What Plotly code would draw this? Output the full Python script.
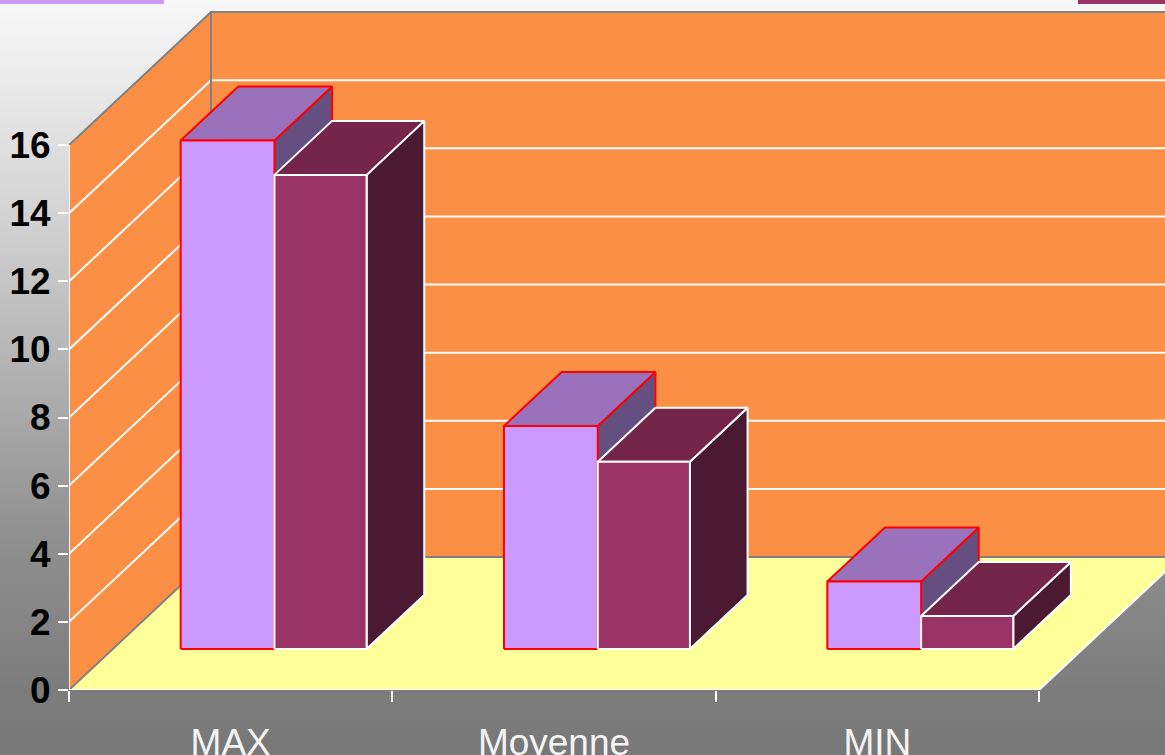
import base64
import plotly.graph_objects as go

# ---- data ----
categories = ["MAX", "Moyenne", "MIN"]
series_a = [14.93, 6.55, 1.98]
series_b = [13.92, 5.5, 0.97]
y_ticks = [0, 2, 4, 6, 8, 10, 12, 14, 16]

# ---- oblique projection (in axis units) ----
PX_PER_CAT = 323.33
PX_PER_VAL = 34.06
PLOT_W = 1096
PLOT_H = 690
DX = 142 / PX_PER_CAT
DY = 133 / PX_PER_VAL
D0, D1 = 41 / 133, 95 / 133
BAR_L, BAR_M, BAR_R = 0.21, 0.5, 0.785
NCAT = len(categories)
YTOP = y_ticks[-1]

WALL = "#FB8F45"
FLOOR = "#FFFF99"
GREY = "#808080"
WHITE = "#FFFFFF"
STYLE_A = dict(front="#CC99FF", top="#9A72BC", side="#654F80", edge="#FF0000")
STYLE_B = dict(front="#993366", top="#732649", side="#4C1933", edge="#FFFFFF")


def P(x, v, d):
    return x + d * DX, v + d * DY


def poly(points, fill=None, line=None, width=1.5, clip=True):
    xs = [p[0] for p in points]
    ys = [p[1] for p in points]
    kw = dict(x=xs, y=ys, mode="lines", hoverinfo="skip", showlegend=False, cliponaxis=clip)
    if fill:
        kw.update(fill="toself", fillcolor=fill)
    if line:
        kw["line"] = dict(color=line, width=width)
    else:
        kw["line"] = dict(width=0)
    return go.Scatter(**kw)


fig = go.Figure()

# walls and floor
fig.add_trace(poly([P(0, 0, 0), P(0, 0, 1), P(0, YTOP, 1), P(0, YTOP, 0), P(0, 0, 0)], fill=WALL))
fig.add_trace(poly([P(0, 0, 1), P(NCAT, 0, 1), P(NCAT, YTOP, 1), P(0, YTOP, 1), P(0, 0, 1)], fill=WALL))
fig.add_trace(poly([P(0, 0, 0), P(NCAT, 0, 0), P(NCAT, 0, 1), P(0, 0, 1), P(0, 0, 0)], fill=FLOOR))

# grid lines
for v in y_ticks[1:-1]:
    fig.add_trace(poly([P(0, v, 0), P(0, v, 1), P(NCAT, v, 1)], line=WHITE, width=2))

# wall outlines
fig.add_trace(poly([P(0, YTOP, 0), P(0, YTOP, 1), P(NCAT, YTOP, 1)], line=GREY, width=2))
fig.add_trace(poly([P(0, 0, 1), P(0, YTOP, 1)], line=GREY, width=2))
fig.add_trace(poly([P(0, 0, 0), P(0, 0, 1), P(NCAT, 0, 1)], line=GREY, width=2))

# axes lines
fig.add_trace(poly([P(0, 0, 0), P(0, YTOP, 0)], line=WHITE, width=2, clip=False))
fig.add_trace(poly([P(0, 0, 0), P(NCAT, 0, 0), P(NCAT, 0, 1)], line=WHITE, width=2, clip=False))


def box(x0, x1, v, st):
    side = [P(x1, 0, D0), P(x1, 0, D1), P(x1, v, D1), P(x1, v, D0), P(x1, 0, D0)]
    top = [P(x0, v, D0), P(x1, v, D0), P(x1, v, D1), P(x0, v, D1), P(x0, v, D0)]
    front = [P(x0, 0, D0), P(x1, 0, D0), P(x1, v, D0), P(x0, v, D0), P(x0, 0, D0)]
    for pts, colr in ((side, st["side"]), (top, st["top"]), (front, st["front"])):
        fig.add_trace(poly(pts, fill=colr, line=st["edge"], width=2))


for i in range(NCAT):
    box(i + BAR_L, i + BAR_M, series_a[i], STYLE_A)
    box(i + BAR_M, i + BAR_R, series_b[i], STYLE_B)

# vertical page gradient
grad_svg = (
    '<svg xmlns="http://www.w3.org/2000/svg" width="1165" height="755" preserveAspectRatio="none">'
    '<defs><linearGradient id="g" x1="0" y1="0" x2="0" y2="1">'
    '<stop offset="0" stop-color="#F8F8F8"/>'
    '<stop offset="0.305" stop-color="#D0D0D0"/>'
    '<stop offset="0.715" stop-color="#8F8F8F"/>'
    '<stop offset="0.915" stop-color="#7C7C7C"/>'
    '<stop offset="1" stop-color="#787878"/>'
    '</linearGradient></defs><rect width="1165" height="755" fill="url(#g)"/></svg>'
)
grad_src = "data:image/svg+xml;base64," + base64.b64encode(grad_svg.encode()).decode()


def px_x(p):
    return (p - 69) / PLOT_W


def px_y(p):
    return (690 - p) / PLOT_H


fig.update_layout(
    width=1165,
    height=755,
    margin=dict(l=69, r=0, t=0, b=65),
    paper_bgcolor="rgba(0,0,0,0)",
    plot_bgcolor="rgba(0,0,0,0)",
    showlegend=False,
    images=[
        dict(
            source=grad_src, xref="paper", yref="paper", x=px_x(0), y=px_y(0),
            sizex=1165 / PLOT_W, sizey=755 / PLOT_H, sizing="stretch",
            xanchor="left", yanchor="top", layer="below",
        )
    ],
    shapes=[
        dict(type="rect", xref="paper", yref="paper", x0=px_x(0), x1=px_x(164), y0=px_y(4), y1=px_y(0),
             fillcolor=STYLE_A["front"], line_width=0, layer="above"),
        dict(type="rect", xref="paper", yref="paper", x0=px_x(1078), x1=px_x(1165), y0=px_y(4), y1=px_y(0),
             fillcolor=STYLE_B["front"], line_width=0, layer="above"),
    ],
    xaxis=dict(
        range=[0, PLOT_W / PX_PER_CAT],
        automargin=False,
        tickvals=[i + 0.5 for i in range(NCAT)],
        ticktext=categories,
        ticks="outside",
        ticklen=20,
        tickcolor="rgba(0,0,0,0)",
        tickfont=dict(family="Liberation Sans, Arial", size=37, color="#F4F4F4"),
        minor=dict(tickvals=list(range(NCAT + 1)), ticks="outside", ticklen=11, tickwidth=1.5, tickcolor=WHITE),
        showgrid=False,
        zeroline=False,
        showline=False,
        fixedrange=True,
    ),
    yaxis=dict(
        range=[0, PLOT_H / PX_PER_VAL],
        automargin=False,
        tickvals=y_ticks,
        ticktext=[str(v) for v in y_ticks],
        ticks="outside",
        ticklen=10,
        tickwidth=1.5,
        tickcolor=WHITE,
        tickfont=dict(family="Liberation Sans, Arial", size=37, color="#000000", weight="bold"),
        showgrid=False,
        zeroline=False,
        showline=False,
        fixedrange=True,
    ),
)

fig.write_html(
    "out.html",
    config=dict(displayModeBar=False),
    post_script="document.body.style.margin='0';document.documentElement.style.overflow='hidden';",
)
